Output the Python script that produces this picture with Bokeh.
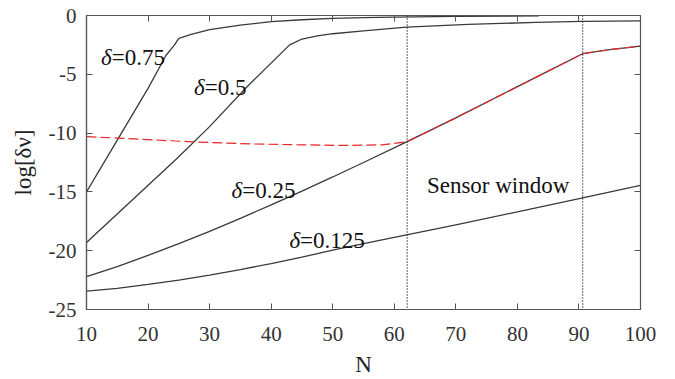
from bokeh.plotting import figure
from bokeh.models import ColumnDataSource, LinearAxis, FixedTicker, Span
from bokeh.core.properties import value
from bokeh.embed import file_html
from bokeh.resources import INLINE

# ---- data ----
N_075 = [10, 15, 20, 22.9, 24.3, 25, 27, 30, 35, 40, 45, 50, 55, 60, 70, 83.5]
v_075 = [-15.0, -10.6, -6.2, -3.4, -2.5, -1.95, -1.6, -1.2, -0.82, -0.52, -0.36, -0.25, -0.18, -0.13, -0.07, -0.03]

N_050 = [10, 17, 24.6, 30, 36, 43, 45, 47.5, 50, 55, 62, 72, 83, 90.6, 100]
v_050 = [-19.3, -15.9, -12.2, -9.45, -6.1, -2.5, -2.0, -1.74, -1.55, -1.3, -0.98, -0.76, -0.59, -0.5, -0.45]

N_025 = [10, 15, 20, 25, 30, 35, 40, 45, 50, 55, 62, 70, 80, 90.6, 95, 100]
v_025 = [-22.2, -21.35, -20.4, -19.4, -18.35, -17.25, -16.1, -14.93, -13.73, -12.5, -10.75, -8.7, -6.05, -3.25, -2.9, -2.6]

N_0125 = [10, 15, 20, 25, 30, 35, 40, 45, 50, 56, 62, 70, 80, 90.6, 100]
v_0125 = [-23.43, -23.2, -22.87, -22.5, -22.08, -21.6, -21.1, -20.55, -19.95, -19.3, -18.66, -17.8, -16.7, -15.5, -14.45]

N_red = [10, 20, 27.3, 36.6, 45, 52, 58, 62, 70, 80, 90.6, 95, 100]
v_red = [-10.3, -10.55, -10.75, -10.92, -11.0, -11.05, -11.0, -10.75, -8.7, -6.05, -3.25, -2.9, -2.6]

window_N = [62.1, 90.6]

label_N = [14.1, 29.2, 35.3, 44.7]
label_y = [-3.56, -6.09, -14.85, -19.16]
label_txt = ["=0.75", "=0.5", "=0.25", "=0.125"]
label_delta = ["\u03b4", "\u03b4", "\u03b4", "\u03b4"]

sensor_N = [65.3]
sensor_y = [-14.45]
sensor_txt = ["Sensor window"]

x_ticks = [10, 20, 30, 40, 50, 60, 70, 80, 90, 100]
y_ticks = [-25, -20, -15, -10, -5, 0]
y_tick_labels = ["-25", "-20", "-15", "-10", "-5", "0"]

FONT = "Liberation Serif"
CURVE = "#3a3a3a"
AX = "#555555"

p = figure(width=675, height=379, x_range=(10, 100), y_range=(-25, 0),
           output_backend="svg", toolbar_location=None,
           min_border_left=86, min_border_right=35, min_border_top=15, min_border_bottom=67)
p.grid.visible = False
p.outline_line_color = AX
p.outline_line_width = 1.2

for ax in (p.xaxis[0], p.yaxis[0]):
    ax.major_tick_in = 6
    ax.major_tick_out = 0
    ax.minor_tick_in = 0
    ax.minor_tick_out = 0
    ax.axis_line_color = AX
    ax.axis_line_width = 1.2
    ax.major_tick_line_color = AX
    ax.major_label_text_font = FONT
    ax.major_label_text_font_size = "21px"
    ax.major_label_text_color = "#333333"
    ax.axis_label_text_font = FONT
    ax.axis_label_text_font_size = "23px"
    ax.axis_label_text_font_style = "normal"
    ax.axis_label_text_color = "#222222"

p.xaxis[0].ticker = FixedTicker(ticks=x_ticks)
p.yaxis[0].ticker = FixedTicker(ticks=y_ticks)
p.yaxis[0].major_label_overrides = {t: s for t, s in zip(y_ticks, y_tick_labels)}
p.xaxis[0].axis_label = "N"
p.yaxis[0].axis_label = "log[\u03b4\u03bd]"
p.xaxis[0].major_label_standoff = 17
p.yaxis[0].major_label_standoff = 10
p.xaxis[0].axis_label_standoff = 8
p.yaxis[0].axis_label_standoff = 10

# tick marks on top and right (no labels)
for loc, tk in (("above", x_ticks), ("right", y_ticks)):
    a = LinearAxis(ticker=FixedTicker(ticks=tk))
    a.major_tick_in = 6
    a.major_tick_out = 0
    a.minor_tick_in = 0
    a.minor_tick_out = 0
    a.major_label_overrides = {t: "" for t in tk}
    a.major_label_standoff = 0
    a.axis_line_color = AX
    a.major_tick_line_color = AX
    p.add_layout(a, loc)

for N, v in ((N_075, v_075), (N_050, v_050), (N_025, v_025), (N_0125, v_0125)):
    p.line(N, v, line_color=CURVE, line_width=1.3)

p.line(N_red, v_red, line_color="#e8262b", line_width=1.2, line_dash="10 4")

for n in window_N:
    p.add_layout(Span(location=n, dimension="height", line_color="#111111",
                      line_width=1.3, line_dash="1 2"))

src = ColumnDataSource(dict(x=label_N, y=label_y, t=label_txt, d=label_delta))
p.text(x="x", y="y", text="d", source=src, text_font=value(FONT),
       text_font_size="23px", text_font_style="italic", text_align="right",
       text_baseline="alphabetic", text_color="#111111")
p.text(x="x", y="y", text="t", source=src, text_font=value(FONT),
       text_font_size="23px", text_align="left",
       text_baseline="alphabetic", text_color="#111111")

p.text(x=sensor_N, y=sensor_y, text=sensor_txt, text_font=value(FONT),
       text_font_size="23px", text_align="left", text_baseline="alphabetic",
       text_color="#111111")

open("out.html", "w").write(file_html(p, INLINE))
